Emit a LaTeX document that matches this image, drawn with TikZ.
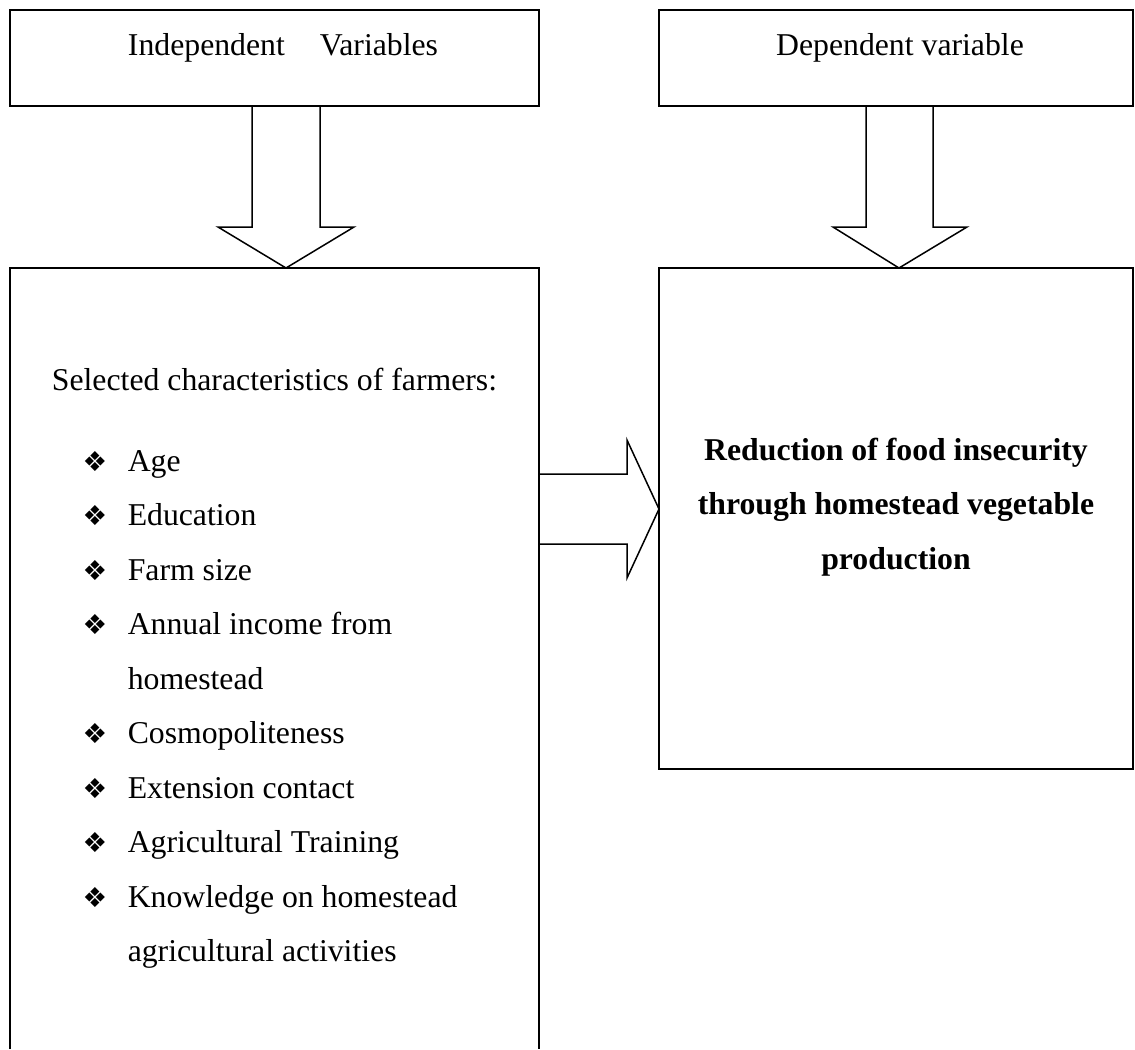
\documentclass[tikz,border=0pt]{standalone}
\usepackage{fontspec}
\setmainfont{Liberation Serif}
\newfontfamily\symfont{DejaVu Sans}
\usetikzlibrary{positioning,fit}
\newcommand{\itm}{\makebox[18pt][l]{\symfont\fontsize{11}{11}\selectfont ❖}}

\begin{document}
\begin{tikzpicture}[x=0.4pt, y=-0.4pt, line width=0.6pt,
	box/.style={draw, rectangle, inner sep=0pt, outer sep=0pt},
	txt/.style={inner sep=0pt, font=\fontsize{12.7}{21.8}\selectfont}]
	\useasboundingbox (0,0) rectangle (1135,1049);

	% boxes
	\node (indep) [box, fit={(10,10) (539,106)}] {};
	\node (dep) [box, fit={(659,10) (1133,106)}] {};
	\node (chars) [box, draw=none, fit={(10,268) (539,1049)}] {};
	\node (result) [box, fit={(659,268) (1133,769)}] {};
	\draw (chars.south west) |- (chars.north east) -- (chars.south east);

	% texts
	\node (indeptxt) [txt, anchor=base] at (283,55) {Independent\hspace{14pt}Variables};
	\node (deptxt) [txt, anchor=base] at (900,55) {Dependent variable};
	\node (head) [txt, anchor=base] at (274.5,390) {Selected characteristics of farmers:};
	\node (list) [txt, anchor=base west] at (82,471) {\begin{tabular}[t]{@{}l@{}l@{}}
		\itm & Age\\
		\itm & Education\\
		\itm & Farm size\\
		\itm & Annual income from\\
		     & homestead\\
		\itm & Cosmopoliteness\\
		\itm & Extension contact\\
		\itm & Agricultural Training\\
		\itm & Knowledge on homestead\\
		     & agricultural activities
	\end{tabular}};
	\node (resulttxt) [txt, anchor=base, font=\fontsize{12.7}{21.8}\selectfont\bfseries] at (896,460) {\begin{tabular}[t]{@{}c@{}}
		Reduction of food insecurity\\
		through homestead vegetable\\
		production
	\end{tabular}};

	% block arrows
	\draw (indep.south -| 252,0) -- (252,227) -- (218,227) -- (chars.north -| 286,0) -- (354,227) -- (320,227) -- (indep.south -| 320,0);
	\draw (dep.south -| 866,0) -- (866,227) -- (833,227) -- (result.north -| 899,0) -- (967,227) -- (933,227) -- (dep.south -| 933,0);
	\draw (chars.east |- 0,474) -- (627,474) -- (627,440) -- (result.west |- 0,509) -- (627,578) -- (627,544) -- (chars.east |- 0,544);
\end{tikzpicture}
\end{document}
